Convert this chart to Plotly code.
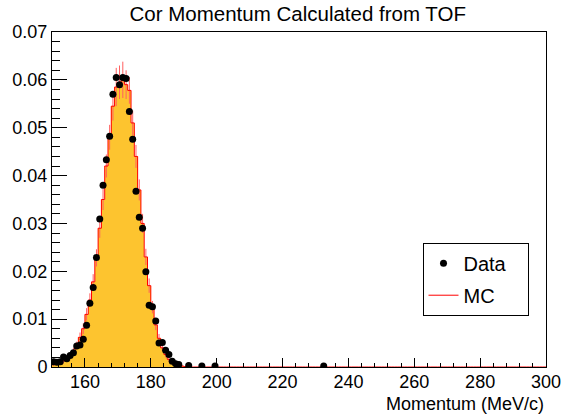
import plotly.graph_objects as go

# ---- data ----
data_x = [150.5, 151.5, 152.5, 153.5, 154.5, 155.5, 156.5, 157.5, 158.5, 159.5,
          160.5, 161.5, 162.5, 163.5, 164.5, 165.5, 166.5, 167.5, 168.5, 169.5,
          170.5, 171.5, 172.5, 173.5, 174.5, 175.5, 176.5, 177.5, 178.5, 179.5,
          180.5, 181.5, 182.5, 183.5, 184.5, 185.5, 186.5, 187.5, 188.5, 191.5,
          195.5, 199.5, 232.5]
data_y = [0.0011, 0.0010, 0.0011, 0.0021, 0.0017, 0.0024, 0.0030, 0.0044, 0.0046, 0.0058,
          0.0087, 0.0133, 0.0166, 0.0229, 0.0309, 0.0380, 0.0433, 0.0482, 0.0570, 0.0605,
          0.0590, 0.0605, 0.0603, 0.0534, 0.0476, 0.0367, 0.0313, 0.0290, 0.0199, 0.0129,
          0.0126, 0.0096, 0.0050, 0.0051, 0.0035, 0.0026, 0.0012, 0.0007, 0.0005, 0.0003,
          0.0002, 0.0002, 0.0002]

mc_centers = [150.5 + i for i in range(150)]
mc_core = [0.0005, 0.0007, 0.0009, 0.0013, 0.0017, 0.0024, 0.0033, 0.0045, 0.0062, 0.0080,
           0.0110, 0.0140, 0.0178, 0.0228, 0.0290, 0.0350, 0.0420, 0.0480, 0.0545, 0.0585,
           0.0595, 0.0600, 0.0590, 0.0578, 0.0510, 0.0440, 0.0370, 0.0300, 0.0230, 0.0170,
           0.0125, 0.0088, 0.0060, 0.0040, 0.0026, 0.0016, 0.0009, 0.0005, 0.0003, 0.0002,
           0.0001]
mc_y = mc_core + [0.0] * (150 - len(mc_core))
mc_err_core = [0.0003, 0.0003, 0.0004, 0.0005, 0.0005, 0.0006, 0.0007, 0.0008, 0.0010, 0.0011,
               0.0013, 0.0014, 0.0016, 0.0018, 0.0020, 0.0022, 0.0024, 0.0026, 0.0030, 0.0040,
               0.0035, 0.0038, 0.0030, 0.0028, 0.0026, 0.0024, 0.0022, 0.0020, 0.0017, 0.0015,
               0.0013, 0.0011, 0.0009, 0.0007, 0.0006, 0.0005, 0.0004, 0.0003, 0.0002, 0.0002,
               0.0001]
mc_err = mc_err_core + [0.0] * (150 - len(mc_err_core))

edges = [c - 0.5 for c in mc_centers] + [mc_centers[-1] + 0.5]
step_y = mc_y + [mc_y[-1]]

fig = go.Figure()

fig.add_trace(go.Bar(x=mc_centers, y=mc_y, width=1.0,
                     marker=dict(color="#FDC42F", line=dict(width=0)),
                     showlegend=False, hoverinfo="skip"))
fig.add_trace(go.Scatter(x=mc_centers, y=mc_y, mode="markers",
                         marker=dict(size=0.1, color="rgba(0,0,0,0)"),
                         error_y=dict(type="data", array=mc_err, color="#FF6060",
                                      thickness=1, width=0),
                         showlegend=False, hoverinfo="skip"))
fig.add_trace(go.Scatter(x=edges, y=step_y, mode="lines", line_shape="hv",
                         line=dict(color="#FF0000", width=1),
                         name="MC", legendgroup="b", legendrank=2))
fig.add_trace(go.Scatter(x=data_x, y=data_y, mode="markers",
                         marker=dict(color="black", size=7),
                         name="Data\u00a0\u00a0\u00a0", legendgroup="a", legendrank=1))

fig.add_annotation(text="Momentum (MeV/c)", xref="paper", yref="paper",
                   x=1.0, y=0, xanchor="right", yanchor="top", yshift=-25,
                   showarrow=False, font=dict(size=18))

fig.update_layout(
    width=565, height=417,
    margin=dict(l=52, r=19, t=32, b=50, autoexpand=False),
    paper_bgcolor="white", plot_bgcolor="white",
    font=dict(family="Liberation Sans, Arial, sans-serif", size=18, color="black"),
    title=dict(text="Cor Momentum Calculated from TOF", x=0.527, xanchor="center",
               y=0.966, yanchor="middle", font=dict(size=20.5)),
    bargap=0,
    showlegend=True,
    legend=dict(x=0.75, y=0.371, xanchor="left", yanchor="top",
                bordercolor="black", borderwidth=1, bgcolor="white",
                font=dict(size=20), traceorder="grouped", tracegroupgap=3,
                itemwidth=30),
    xaxis=dict(range=[150, 300], tick0=0, dtick=20, ticks="inside", ticklen=9,
               tickcolor="black", showline=True, linecolor="black", mirror=True,
               showgrid=False, zeroline=False, automargin=False, ticklabelstandoff=-2,
               minor=dict(ticks="inside", ticklen=4.5, dtick=4, tickcolor="black")),
    yaxis=dict(range=[0, 0.07], dtick=0.01, ticks="inside", ticklen=15,
               tickcolor="black", showline=True, linecolor="black", mirror=True,
               showgrid=False, zeroline=False, automargin=False,
               minor=dict(ticks="inside", ticklen=7.5, dtick=0.002, tickcolor="black")),
)

fig.write_html("out.html")
